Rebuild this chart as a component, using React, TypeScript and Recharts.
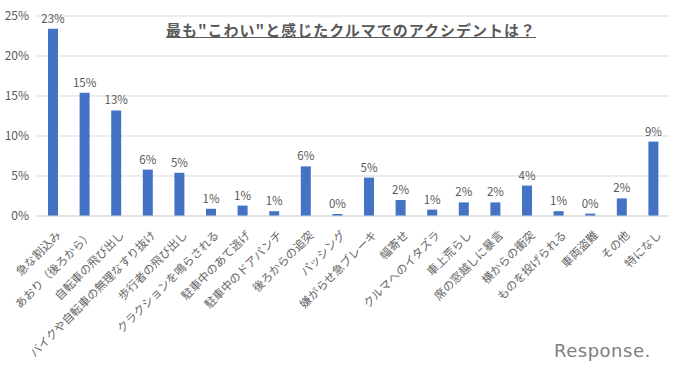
import { BarChart, Bar, XAxis, YAxis, CartesianGrid, LabelList } from "recharts";

const categories = [
  "急な割込み",
  "あおり（後ろから）",
  "自転車の飛び出し",
  "バイクや自転車の無理なすり抜け",
  "歩行者の飛び出し",
  "クラクションを鳴らされる",
  "駐車中のあて逃げ",
  "駐車中のドアパンチ",
  "後ろからの追突",
  "パッシング",
  "嫌がらせ急ブレーキ",
  "幅寄せ",
  "クルマへのイタズラ",
  "車上荒らし",
  "席の窓越しに暴言",
  "横からの衝突",
  "ものを投げられる",
  "車両盗難",
  "その他",
  "特になし",
];

const shares = [
  23.4, 15.4, 13.2, 5.8, 5.4, 0.9, 1.3, 0.6, 6.2, 0.25,
  4.8, 2.0, 0.8, 1.7, 1.7, 3.8, 0.6, 0.3, 2.2, 9.3,
];

const yTicks = [0, 5, 10, 15, 20, 25];

const TITLE = "最も\"こわい\"と感じたクルマでのアクシデントは？";
const FONT = "'Noto Sans CJK JP', 'Noto Sans', sans-serif";
const GRAY = "#595959";

const data = categories.map((name, i) => ({ name, value: shares[i] }));

const AngledTick = (props: any) => {
  const { x, y, payload } = props;
  return (
    <g transform={`translate(${x + 6},${y + 9})`}>
      <text
        transform="rotate(-45)"
        textAnchor="end"
        dy="0.35em"
        fontSize={11.5}
        fill="#666"
        fontFamily={FONT}
      >
        {payload.value}
      </text>
    </g>
  );
};

export default function App() {
  return (
    <div
      style={{
        position: "absolute",
        left: 0,
        top: 0,
        width: 680,
        height: 372,
        background: "#fff",
        fontFamily: FONT,
      }}
    >
      <BarChart
        width={680}
        height={372}
        data={data}
        margin={{ top: 16, right: 11, bottom: 0, left: 0 }}
      >
        <CartesianGrid vertical={false} stroke="#d9d9d9" />
        <XAxis
          dataKey="name"
          interval={0}
          height={156}
          tick={<AngledTick />}
          tickLine={false}
          axisLine={{ stroke: "#d9d9d9" }}
        />
        <YAxis
          width={37}
          domain={[0, 25]}
          ticks={yTicks}
          tickFormatter={(v: number) => `${v}%`}
          tick={{ fontSize: 12, fill: GRAY, fontFamily: FONT }}
          tickLine={false}
          axisLine={false}
        />
        <Bar dataKey="value" fill="#4472C4" barSize={10} isAnimationActive={false}>
          <LabelList
            dataKey="value"
            position="top"
            offset={6}
            formatter={(v: number) => `${Math.round(v)}%`}
            style={{ fontSize: 11.5, fill: GRAY, fontFamily: FONT }}
          />
        </Bar>
      </BarChart>
      <div
        style={{
          position: "absolute",
          left: 0,
          width: 702,
          top: 19,
          textAlign: "center",
          fontSize: 15,
          fontWeight: 700,
          letterSpacing: 1,
          color: GRAY,
          textDecoration: "underline",
          whiteSpace: "nowrap",
        }}
      >
        {TITLE}
      </div>
      <div
        style={{
          position: "absolute",
          left: 554,
          top: 340,
          fontSize: 18,
          color: "#808080",
          fontFamily: "'DejaVu Sans', sans-serif",
          letterSpacing: 0.5,
        }}
      >
        Response.
      </div>
    </div>
  );
}
